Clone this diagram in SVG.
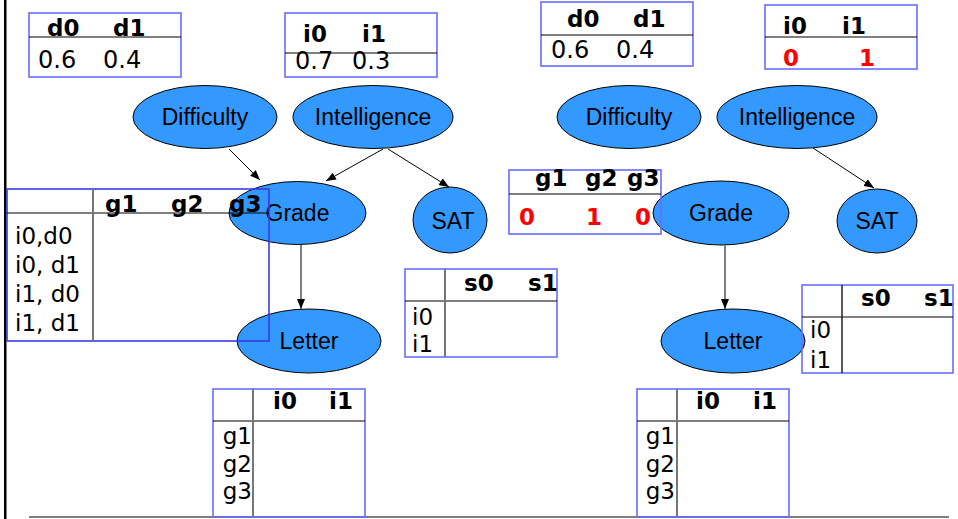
<svg xmlns="http://www.w3.org/2000/svg" width="958" height="519" viewBox="0 0 958 519">
<style>
.bg{fill:#ffffff}
.node{fill:#3399ff;stroke:#000;stroke-width:1}
.lbl{font-family:"Liberation Sans",Arial,sans-serif;font-size:23px;fill:#000;text-anchor:middle}
.tb{fill:none;stroke:#6b6bff;stroke-width:1.6}
.hl{stroke:#000;stroke-width:1.2}
.sep{stroke:#777;stroke-width:2}
.th{font-family:"DejaVu Sans",Verdana,sans-serif;font-weight:bold;font-size:23px;fill:#000}
.td{font-family:"DejaVu Sans",Verdana,sans-serif;font-size:23px;fill:#000}
.tv{font-family:"DejaVu Sans",Verdana,sans-serif;font-size:24px;fill:#000}
.red{font-family:"DejaVu Sans",Verdana,sans-serif;font-weight:bold;font-size:23px;fill:#ff0000}
.edge{stroke:#000;stroke-width:1;fill:none}
.gedge{stroke:#808080;stroke-width:2;fill:none}
</style>
<defs>
<marker id="ah" viewBox="0 0 10 8" refX="10" refY="4" markerWidth="10" markerHeight="8" markerUnits="userSpaceOnUse" orient="auto">
<path d="M0,0 L10,4 L0,8 z" fill="#000"/>
</marker>
</defs>
<rect class="bg" x="0" y="0" width="958" height="519"/>
<rect x="4" y="0" width="2.5" height="519" fill="#000"/>
<line x1="29" y1="517" x2="949" y2="517" stroke="#555" stroke-width="1.6"/>

<!-- Left network nodes -->
<g id="difficulty-l"><ellipse class="node" cx="205" cy="117" rx="72" ry="31.5"/><text class="lbl" x="205" y="125">Difficulty</text></g>
<g id="intelligence-l"><ellipse class="node" cx="373" cy="117" rx="80" ry="31.5"/><text class="lbl" x="373" y="125">Intelligence</text></g>
<g id="grade-l"><ellipse class="node" cx="297.5" cy="213" rx="68.5" ry="31.5"/><text class="lbl" x="297.5" y="221">Grade</text></g>
<g id="sat-l"><ellipse class="node" cx="450" cy="220" rx="37" ry="33"/><text class="lbl" x="453" y="229">SAT</text></g>
<g id="letter-l"><ellipse class="node" cx="309" cy="341" rx="72" ry="32"/><text class="lbl" x="309" y="349">Letter</text></g>

<!-- Right network nodes -->
<g id="difficulty-r"><ellipse class="node" cx="629" cy="117" rx="72" ry="31.5"/><text class="lbl" x="629" y="125">Difficulty</text></g>
<g id="intelligence-r"><ellipse class="node" cx="797" cy="117" rx="80" ry="31.5"/><text class="lbl" x="797" y="125">Intelligence</text></g>
<g id="grade-r"><ellipse class="node" cx="721" cy="213" rx="68" ry="32"/><text class="lbl" x="721" y="221">Grade</text></g>
<g id="sat-r"><ellipse class="node" cx="877" cy="221" rx="40" ry="32"/><text class="lbl" x="877" y="229">SAT</text></g>
<g id="letter-r"><ellipse class="node" cx="733" cy="341" rx="72" ry="32"/><text class="lbl" x="733" y="349">Letter</text></g>

<!-- Connectors -->
<g id="connectors">
<line class="edge" x1="229" y1="149" x2="260" y2="180" marker-end="url(#ah)"/>
<line class="edge" x1="383" y1="149" x2="326" y2="181" marker-end="url(#ah)"/>
<line class="edge" x1="388" y1="149" x2="449" y2="187" marker-end="url(#ah)"/>
<line class="gedge" x1="301" y1="245" x2="301" y2="309" marker-end="url(#ah)"/>
<line class="edge" x1="813" y1="148" x2="874" y2="188" marker-end="url(#ah)"/>
<line class="gedge" x1="725" y1="245" x2="725" y2="309" marker-end="url(#ah)"/>
</g>

<!-- Left CPT tables -->
<g id="cpt-d-l">
<rect class="tb" x="29" y="13" width="152" height="64"/>
<line class="hl" x1="29" y1="37" x2="181" y2="37"/>
<text class="th" x="47" y="36">d0</text><text class="th" x="113" y="36">d1</text>
<text class="tv" x="38" y="68">0.6</text><text class="tv" x="103" y="68">0.4</text>
</g>
<g id="cpt-i-l">
<rect class="tb" x="285" y="13" width="152" height="64"/>
<line class="hl" x1="285" y1="53" x2="437" y2="53"/>
<text class="th" x="303" y="42">i0</text><text class="th" x="362" y="42">i1</text>
<text class="tv" x="295" y="69">0.7</text><text class="tv" x="352" y="69">0.3</text>
</g>
<g id="cpt-g-l">
<rect x="7" y="189" width="262" height="152" fill="none" stroke="#3a3ae8" stroke-width="1.6"/>
<line class="hl" x1="7" y1="213" x2="269" y2="213"/>
<line class="sep" x1="93" y1="189" x2="93" y2="341"/>
<text class="th" x="105" y="212">g1</text><text class="th" x="171" y="212">g2</text><text class="th" x="229" y="212">g3</text>
<text class="td" x="15" y="244">i0,d0</text>
<text class="td" x="15" y="273">i0, d1</text>
<text class="td" x="15" y="302">i1, d0</text>
<text class="td" x="15" y="331">i1, d1</text>
</g>
<g id="cpt-s-l">
<rect class="tb" x="405" y="269" width="152" height="88"/>
<line class="hl" x1="405" y1="301" x2="557" y2="301"/>
<line class="sep" x1="445" y1="269" x2="445" y2="357"/>
<text class="th" x="464" y="291">s0</text><text class="th" x="528" y="291">s1</text>
<text class="td" x="412" y="325">i0</text><text class="td" x="412" y="352">i1</text>
</g>
<g id="cpt-l-l">
<rect class="tb" x="213" y="389" width="152" height="128"/>
<line class="hl" x1="213" y1="421" x2="365" y2="421"/>
<line class="sep" x1="253" y1="389" x2="253" y2="517"/>
<text class="th" x="273" y="409">i0</text><text class="th" x="329" y="409">i1</text>
<text class="td" x="252" y="444" text-anchor="end">g1</text>
<text class="td" x="252" y="472" text-anchor="end">g2</text>
<text class="td" x="252" y="499" text-anchor="end">g3</text>
</g>

<!-- Right CPT tables -->
<g id="cpt-d-r">
<rect class="tb" x="541" y="2" width="152" height="64"/>
<line class="hl" x1="541" y1="35" x2="693" y2="35"/>
<text class="th" x="567" y="27">d0</text><text class="th" x="633" y="27">d1</text>
<text class="tv" x="551" y="58">0.6</text><text class="tv" x="616" y="58">0.4</text>
</g>
<g id="cpt-i-r">
<rect class="tb" x="765" y="5" width="152" height="64"/>
<line class="hl" x1="765" y1="37" x2="917" y2="37"/>
<text class="th" x="783" y="34">i0</text><text class="th" x="842" y="34">i1</text>
<text class="red" x="783" y="66">0</text><text class="red" x="859" y="66">1</text>
</g>
<g id="cpt-g-r">
<rect class="tb" x="509" y="170" width="152" height="64"/>
<line class="hl" x1="509" y1="194" x2="661" y2="194"/>
<text class="th" x="535" y="186">g1</text><text class="th" x="585" y="186">g2</text><text class="th" x="627" y="186">g3</text>
<text class="red" x="519" y="225">0</text><text class="red" x="586" y="225">1</text><text class="red" x="635" y="225">0</text>
</g>
<g id="cpt-s-r">
<rect class="tb" x="802" y="285" width="151" height="88"/>
<line class="hl" x1="802" y1="317" x2="953" y2="317"/>
<line x1="842" y1="285" x2="842" y2="373" stroke="#222" stroke-width="1.5"/>
<text class="th" x="861" y="306">s0</text><text class="th" x="924" y="306">s1</text>
<text class="td" x="810" y="338">i0</text><text class="td" x="810" y="368">i1</text>
</g>
<g id="cpt-l-r">
<rect class="tb" x="637" y="389" width="152" height="128"/>
<line class="hl" x1="637" y1="421" x2="789" y2="421"/>
<line class="sep" x1="677" y1="389" x2="677" y2="517"/>
<text class="th" x="696" y="409">i0</text><text class="th" x="753" y="409">i1</text>
<text class="td" x="675" y="444" text-anchor="end">g1</text>
<text class="td" x="675" y="472" text-anchor="end">g2</text>
<text class="td" x="675" y="499" text-anchor="end">g3</text>
</g>
</svg>
